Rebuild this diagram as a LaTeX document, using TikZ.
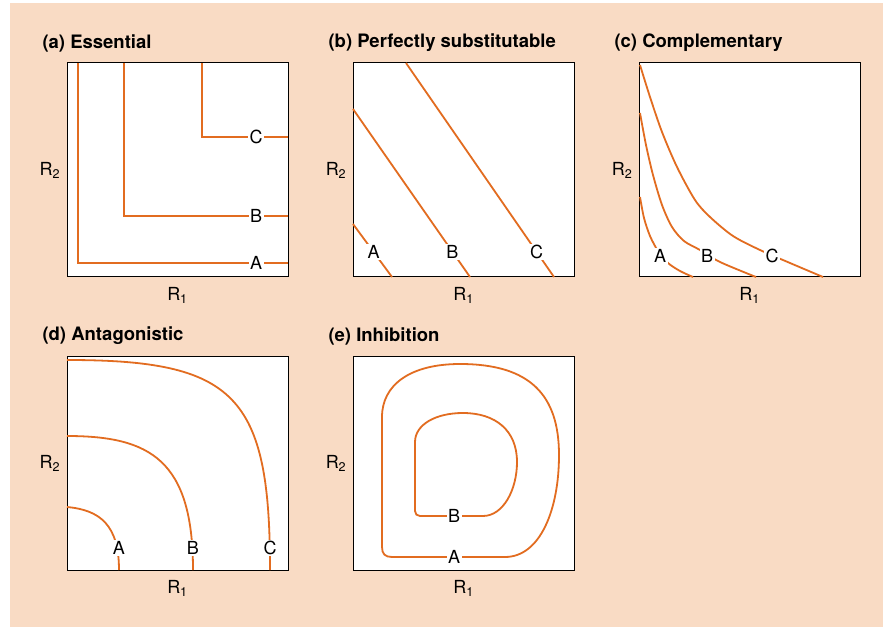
\documentclass[tikz,border=0pt]{standalone}
\usepackage{fontspec}
\setmainfont{TeX Gyre Heros}

\definecolor{peach}{RGB}{249,219,196}
\definecolor{isocol}{RGB}{226,108,32}

\newcommand*{\boxw}{221}
\newcommand*{\boxh}{214}

\begin{document}
\begin{tikzpicture}
[
	x=1pt,
	y=-1pt,
	panel/.style={draw=black,fill=white,line width=1pt},
	iso/.style={draw=isocol,line width=1.8pt},
	lbl/.style={fill=white,inner sep=1.5pt,font=\fontsize{18}{21}\selectfont},
	axlbl/.style={font=\fontsize{18}{21}\selectfont},
	ttl/.style={anchor=west,font=\fontsize{18.5}{22}\selectfont\bfseries}
]

	% background
	\fill[white] (0,0) rectangle (883,628);
	\fill[peach] (10,3) rectangle (883,627);

	% panels, titles and axis labels
	\foreach \n/\px/\py/\lab in {a/67/63/{(a) Essential},
	                            b/353/63/{(b) Perfectly substitutable},
	                            c/639/63/{(c) Complementary},
	                            d/67/356/{(d) Antagonistic},
	                            e/353/356/{(e) Inhibition}} {
		\draw[panel] (\px,\py) rectangle ++(\boxw,\boxh);
		\node[ttl] (title-\n) at (\px-28,\py-20) {\lab};
		\node[axlbl] (rone-\n) at (\px+0.5*\boxw,\py+\boxh+18) {R\textsubscript{1}};
		\node[axlbl] (rtwo-\n) at (\px-17,\py+0.5*\boxh) {R\textsubscript{2}};
	}

	% (a) essential
	\draw[iso] (78,63) |- (288,263);
	\draw[iso] (124,63) |- (288,216);
	\draw[iso] (202,63) |- (288,137);
	\node[lbl] (esA) at (256,263) {A};
	\node[lbl] (esB) at (256,216) {B};
	\node[lbl] (esC) at (256,137) {C};

	% (b) perfectly substitutable
	\draw[iso] (353,224) -- node[lbl,pos=0.53] (psA) {A} (392,277);
	\draw[iso] (353,109) -- node[lbl,pos=0.85] (psB) {B} (470,277);
	\draw[iso] (406,63) -- node[lbl,pos=0.883] (psC) {C} (554,277);

	% (c) complementary
	\draw[iso] plot[smooth] coordinates {(640,197) (644,218) (650,236) (658,251)
	  (668,263) (680,271) (693,277)};
	\draw[iso] plot[smooth] coordinates {(640,113) (646,145) (653,175) (662,205)
	  (672,227) (684,241) (700,250) (720,262) (756,277)};
	\draw[iso] plot[smooth] coordinates {(640,65) (650,97) (662,132) (677,167)
	  (695,200) (710,217) (733,236) (760,250) (790,263) (823,277)};
	\node[lbl] (coA) at (660,256) {A};
	\node[lbl] (coB) at (707,256) {B};
	\node[lbl] (coC) at (772,256) {C};

	% (d) antagonistic
	\draw[iso] (67,507) .. controls (100,510) and (119,525) .. (119,570);
	\draw[iso] (67,436) .. controls (150,436) and (193,460) .. (193,570);
	\draw[iso] (67,360) .. controls (235,360) and (270,395) .. (270,570);
	\node[lbl] (anA) at (119,548) {A};
	\node[lbl] (anB) at (193,548) {B};
	\node[lbl] (anC) at (270,548) {C};

	% (e) inhibition
	\draw[iso] (392,557) -- (505,557)
	  .. controls (540,557) and (559,510) .. (559,455)
	  .. controls (559,395) and (530,364) .. (460,364)
	  .. controls (410,364) and (382,385) .. (382,417)
	  -- (382,547) .. controls (382,554) and (385,557) .. (392,557) -- cycle;
	\draw[iso] (420,516) -- (483,516)
	  .. controls (503,516) and (517,490) .. (517,462)
	  .. controls (517,430) and (495,413) .. (463,413)
	  .. controls (435,413) and (415,425) .. (415,442)
	  -- (415,511) .. controls (415,514) and (417,516) .. (420,516) -- cycle;
	\node[lbl] (inA) at (454,557) {A};
	\node[lbl] (inB) at (454,516) {B};

\end{tikzpicture}
\end{document}
